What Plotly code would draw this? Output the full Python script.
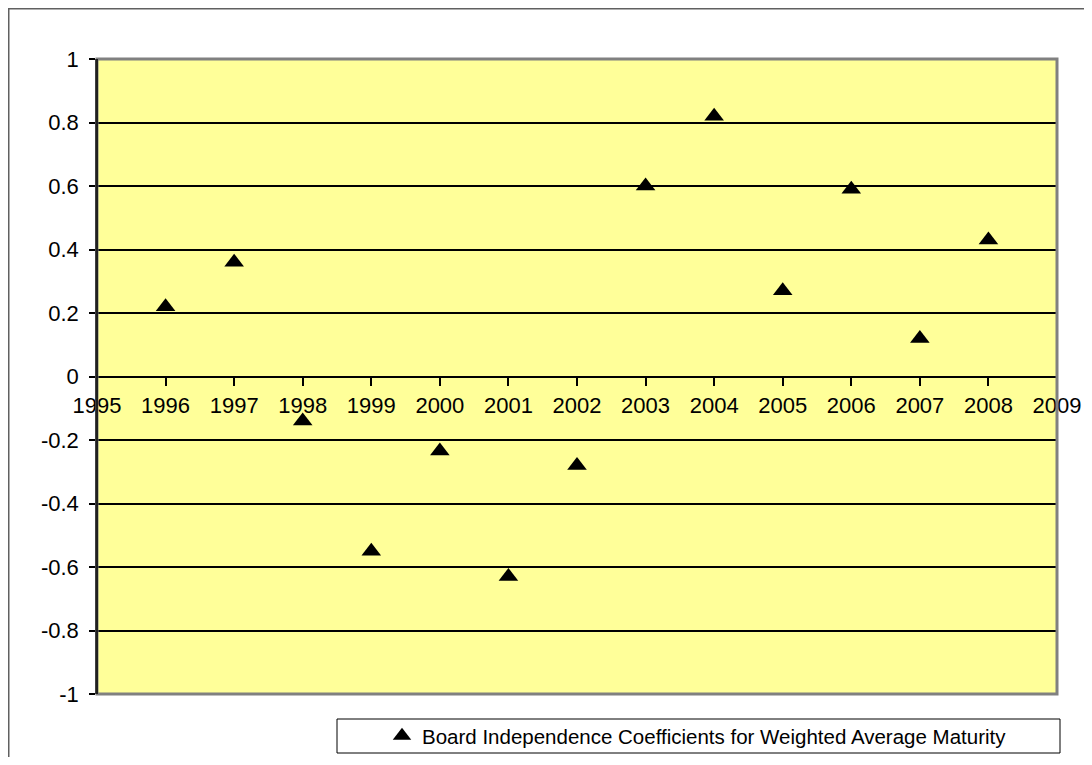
import plotly.graph_objects as go

years = [1996, 1997, 1998, 1999, 2000, 2001, 2002, 2003, 2004, 2005, 2006, 2007, 2008]
coefficients = [0.22, 0.36, -0.14, -0.55, -0.235, -0.63, -0.28, 0.60, 0.82, 0.27, 0.59, 0.12, 0.43]
series_name = "Board Independence Coefficients for Weighted Average Maturity"
y_ticks = [-1, -0.8, -0.6, -0.4, -0.2, 0, 0.2, 0.4, 0.6, 0.8, 1]
x_ticks = list(range(1995, 2010))

FONT = "Liberation Sans, Arial, sans-serif"
FS = 22
FS_LEG = 20.5

fig = go.Figure()
fig.add_trace(go.Scatter(
    x=years, y=coefficients, mode="markers", name=series_name,
    marker=dict(symbol="triangle-up", size=17, color="black"),
))

# the page body has an 8px margin; work in page pixel coordinates
OFF = 8
W, H = 1092 - 2 * OFF, 765 - 2 * OFF
PL, PT, PR, PB = 97, 59, 1057, 694          # plot area in page pixels
L, T = PL - OFF, PT - OFF
R, B = W - (PR - OFF), H - (PB - OFF)
pw, ph = PR - PL, PB - PT
def px2x(px):
    return (px - PL) / pw
def py2y(py):
    return (PB - py) / ph

fig.update_layout(
    width=W, height=H,
    margin=dict(l=L, r=R, t=T, b=B, autoexpand=False),
    paper_bgcolor="white",
    plot_bgcolor="#FFFF99",
    font=dict(family=FONT, size=FS, color="black"),
    showlegend=True,
    legend=dict(
        x=px2x(382), y=py2y(736), xanchor="left", yanchor="middle",
        orientation="h",
        borderwidth=0, bgcolor="rgba(0,0,0,0)",
        font=dict(family=FONT, size=FS_LEG, color="black"),
    ),
    xaxis=dict(
        range=[1995, 2009], tickmode="array", tickvals=x_ticks,
        ticktext=[str(v) for v in x_ticks],
        showgrid=False, zeroline=False,
        showline=True, linecolor="black", linewidth=1.5,
        ticks="outside", ticklen=9, tickcolor="black", tickwidth=1.5,
        tickangle=0,
        anchor="free", position=0.5,
        tickfont=dict(family=FONT, size=FS),
    ),
    yaxis=dict(
        range=[-1, 1], tickmode="array", tickvals=y_ticks,
        ticktext=[("%g" % v) for v in y_ticks],
        showgrid=True, gridcolor="black", gridwidth=1.5,
        zeroline=False,
        showline=True, linecolor="black", linewidth=1.5,
        ticks="outside", ticklen=6, tickcolor="black", tickwidth=1.5,
        ticklabelstandoff=6,
        tickfont=dict(family=FONT, size=FS),
    ),
)

# plot-area border (Excel style: gray frame)
fig.add_shape(type="rect", xref="paper", yref="paper", x0=0, y0=0, x1=1, y1=1,
              line=dict(color="#808080", width=3), fillcolor="rgba(0,0,0,0)", layer="above")
fig.add_shape(type="line", xref="paper", yref="paper", x0=0, y0=0, x1=0, y1=1,
              line=dict(color="black", width=1.5), layer="above")

# legend frame
fig.add_shape(type="rect", xref="paper", yref="paper",
              x0=px2x(337), y0=py2y(753), x1=px2x(1060), y1=py2y(719),
              line=dict(color="black", width=1), fillcolor="white", layer="below")

# outer chart border
fig.add_shape(type="rect", xref="paper", yref="paper",
              x0=px2x(OFF + 0.75), y0=py2y(OFF + 0.75), x1=px2x(1100), y1=py2y(775),
              line=dict(color="#606060", width=1.5), fillcolor="rgba(0,0,0,0)", layer="below")

fig.write_html("out.html")
